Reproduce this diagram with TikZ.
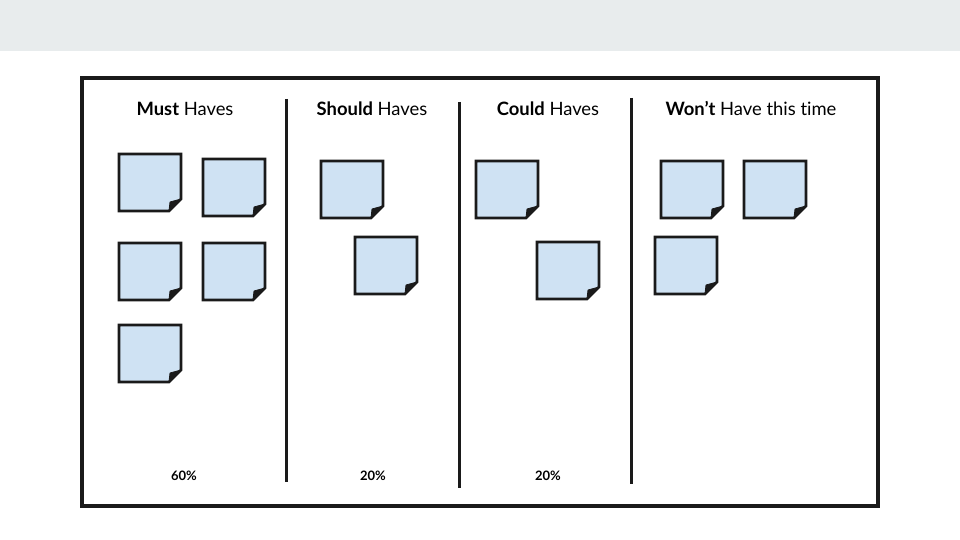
\documentclass[tikz,border=0pt]{standalone}
\usepackage{fontspec}
\setmainfont{Lato}[Ligatures=NoCommon]
\definecolor{bandgrey}{HTML}{E8ECED}
\definecolor{noteblue}{HTML}{CFE2F3}
\definecolor{inkblack}{HTML}{1A1A1A}
\begin{document}
\begin{tikzpicture}[x=1pt,y=-1pt,
    head/.style={anchor=base,font=\fontsize{18.4}{22}\selectfont},
    share/.style={anchor=base,font=\fontsize{13}{15}\selectfont\bfseries},
    note/.style={fill=noteblue,draw=inkblack,line width=2.6pt,line join=miter},
    fold/.style={fill=inkblack,draw=inkblack,line width=0.8pt,line join=round}]
    \useasboundingbox (0,0) rectangle (960,540);
    \fill[bandgrey] (0,0) rectangle (960,51);
    \draw[inkblack,line width=3.8pt] (82,78) rectangle (878,506);
    \draw[inkblack,line width=3pt] (286,99)--(286,482);
    \draw[inkblack,line width=3pt] (459,102)--(459,488);
    \draw[inkblack,line width=3pt] (631,98)--(631,484);
    \node[head] (must) at (185,116) {\textbf{Must} Haves};
    \node[head] (should) at (372,116) {\textbf{Should} Haves};
    \node[head] (could) at (548,116) {\textbf{Could} Haves};
    \node[head] (wont) at (751,116) {\textbf{Won’t} Have this time};
    \foreach \x/\y in {119/154,203/159,119/243,203/243,119/325,
                       321/161,355/237,476/161,537/242,
                       661/161,744/161,655/237}{
      \filldraw[note] (\x,\y) -- ++(62,0) -- ++(0,45) -- ++(-12,12) -- ++(-50,0) -- cycle;
      \filldraw[fold] (\x+62,\y+45) -- (\x+50,\y+57) -- (\x+51,\y+48) -- cycle;
    }
    \node[share] (mustshare) at (184,480.5) {60\%};
    \node[share] (shouldshare) at (373,480.5) {20\%};
    \node[share] (couldshare) at (548,480.5) {20\%};
\end{tikzpicture}
\end{document}
